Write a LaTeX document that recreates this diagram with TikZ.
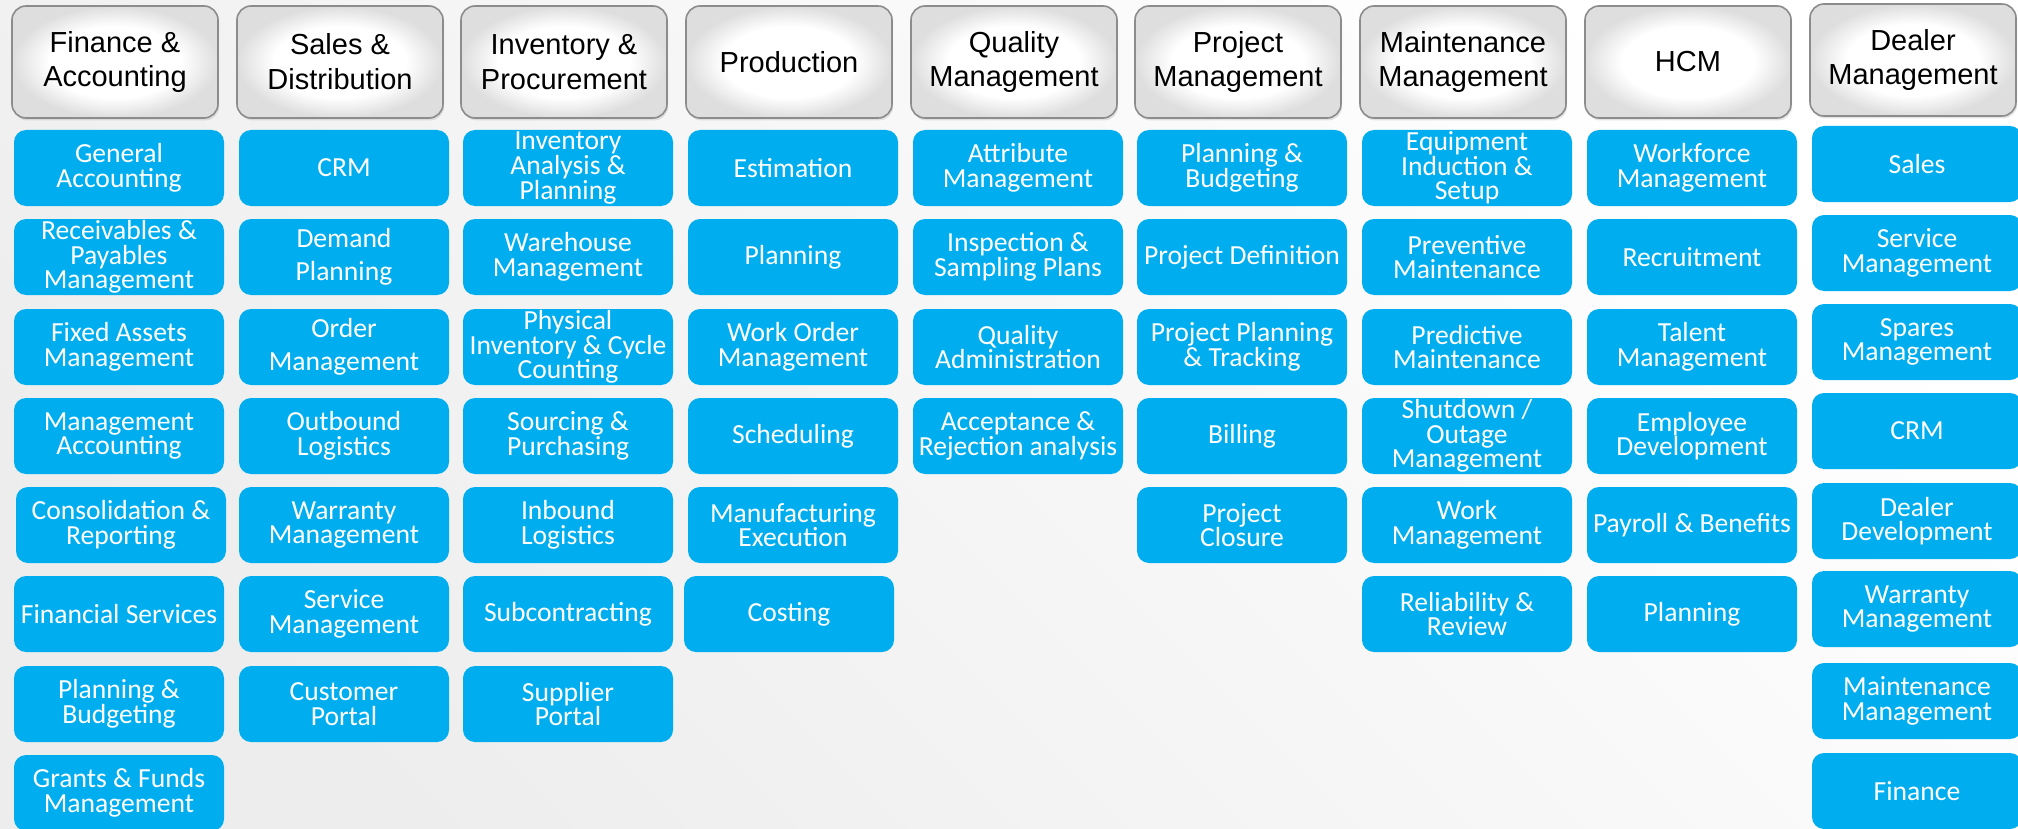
\documentclass[tikz,border=0pt]{standalone}
\usepackage{fontspec}
\setmainfont{Carlito}
\newfontfamily\headfont{Liberation Sans}
\usetikzlibrary{shadows}
\definecolor{modblue}{HTML}{00AEEF}
\definecolor{headedge}{HTML}{8C8C8C}
\pgfdeclareradialshading{headglow}{\pgfpoint{0bp}{0bp}}{color(0bp)=(white); color(16bp)=(white); color(25bp)=(black!13); color(50bp)=(black!13)}
\tikzset{
    modhead/.style = {shape = rectangle, rounded corners = 7pt, draw = headedge, line width = 0.8pt,
        shading = headglow, minimum width = 103pt, minimum height = 56pt,
        inner sep = 0pt, align = center, font = {\headfont\fontsize{14.5pt}{17.4pt}\selectfont},
        drop shadow = {opacity = 0.2, shadow xshift = 0.6pt, shadow yshift = -1.2pt}},
    modbox/.style = {shape = rectangle, rounded corners = 6pt, fill = modblue, text = white,
        minimum width = 105pt, minimum height = 38pt, inner sep = 0pt, align = center,
        font = {\fontsize{13.8pt}{12.3pt}\selectfont}}
}

\begin{document}
\begin{tikzpicture}[x = 0.5pt, y = -0.5pt]
            \useasboundingbox (0, 0) rectangle (2018, 829);
            \shade [top color = white, bottom color = black!7, shading angle = -45] (0, 0) rectangle (2018, 829);

            \node [modhead] (fin) at (115, 62) {Finance \&\\Accounting};
            \node [modhead] (sales) at (340, 62) {Sales \&\\Distribution};
            \node [modhead] (inv) at (564, 62) {Inventory \&\\Procurement};
            \node [modhead] (prod) at (789, 62) {Production};
            \node [modhead] (qual) at (1014, 62) {Quality\\Management};
            \node [modhead] (proj) at (1238, 62) {Project\\Management};
            \node [modhead] (maint) at (1463, 62) {Maintenance\\Management};
            \node [modhead] (hcm) at (1688, 62) {HCM};
            \node [modhead] (dealer) at (1913, 60) {Dealer\\Management};

            \node [modbox] (fin1) at (119, 168) {General\\Accounting};
            \node [modbox] (fin2) at (119, 257) {Receivables \&\\Payables\\Management};
            \node [modbox] (fin3) at (119, 347) {Fixed Assets\\Management};
            \node [modbox] (fin4) at (119, 436) {Management\\Accounting};
            \node [modbox] (fin5) at (121, 525) {Consolidation \&\\Reporting};
            \node [modbox] (fin6) at (119, 614) {Financial Services};
            \node [modbox] (fin7) at (119, 704) {Planning \&\\Budgeting};
            \node [modbox] (fin8) at (119, 793) {Grants \& Funds\\Management};

            \node [modbox] (sales1) at (344, 168) {CRM};
            \node [modbox] (sales2) at (344, 257) {Demand\\[4pt]Planning};
            \node [modbox] (sales3) at (344, 347) {Order\\[4pt]Management};
            \node [modbox] (sales4) at (344, 436) {Outbound\\Logistics};
            \node [modbox] (sales5) at (344, 525) {Warranty\\Management};
            \node [modbox] (sales6) at (344, 614) {Service\\Management};
            \node [modbox] (sales7) at (344, 704) {Customer\\Portal};

            \node [modbox] (inv1) at (568, 168) {Inventory\\Analysis \&\\Planning};
            \node [modbox] (inv2) at (568, 257) {Warehouse\\Management};
            \node [modbox] (inv3) at (568, 347) {Physical\\Inventory \& Cycle\\Counting};
            \node [modbox] (inv4) at (568, 436) {Sourcing \&\\Purchasing};
            \node [modbox] (inv5) at (568, 525) {Inbound\\Logistics};
            \node [modbox] (inv6) at (568, 614) {Subcontracting};
            \node [modbox] (inv7) at (568, 704) {Supplier\\Portal};

            \node [modbox] (prod1) at (793, 168) {Estimation};
            \node [modbox] (prod2) at (793, 257) {Planning};
            \node [modbox] (prod3) at (793, 347) {Work Order\\Management};
            \node [modbox] (prod4) at (793, 436) {Scheduling};
            \node [modbox] (prod5) at (793, 525) {Manufacturing\\Execution};
            \node [modbox] (prod6) at (789, 614) {Costing};

            \node [modbox] (qual1) at (1018, 168) {Attribute\\Management};
            \node [modbox] (qual2) at (1018, 257) {Inspection \&\\Sampling Plans};
            \node [modbox] (qual3) at (1018, 347) {Quality\\Administration};
            \node [modbox] (qual4) at (1018, 436) {Acceptance \&\\Rejection analysis};

            \node [modbox] (proj1) at (1242, 168) {Planning \&\\Budgeting};
            \node [modbox] (proj2) at (1242, 257) {Project Definition};
            \node [modbox] (proj3) at (1242, 347) {Project Planning\\\& Tracking};
            \node [modbox] (proj4) at (1242, 436) {Billing};
            \node [modbox] (proj5) at (1242, 525) {Project\\Closure};

            \node [modbox] (maint1) at (1467, 168) {Equipment\\Induction \&\\Setup};
            \node [modbox] (maint2) at (1467, 257) {Preventive\\Maintenance};
            \node [modbox] (maint3) at (1467, 347) {Predictive\\Maintenance};
            \node [modbox] (maint4) at (1467, 436) {Shutdown /\\Outage\\Management};
            \node [modbox] (maint5) at (1467, 525) {Work\\Management};
            \node [modbox] (maint6) at (1467, 614) {Reliability \&\\Review};

            \node [modbox] (hcm1) at (1692, 168) {Workforce\\Management};
            \node [modbox] (hcm2) at (1692, 257) {Recruitment};
            \node [modbox] (hcm3) at (1692, 347) {Talent\\Management};
            \node [modbox] (hcm4) at (1692, 436) {Employee\\Development};
            \node [modbox] (hcm5) at (1692, 525) {Payroll \& Benefits};
            \node [modbox] (hcm6) at (1692, 614) {Planning};

            \node [modbox] (dealer1) at (1917, 164) {Sales};
            \node [modbox] (dealer2) at (1917, 253) {Service\\Management};
            \node [modbox] (dealer3) at (1917, 342) {Spares\\Management};
            \node [modbox] (dealer4) at (1917, 431) {CRM};
            \node [modbox] (dealer5) at (1917, 521) {Dealer\\Development};
            \node [modbox] (dealer6) at (1917, 609) {Warranty\\Management};
            \node [modbox] (dealer7) at (1917, 701) {Maintenance\\Management};
            \node [modbox] (dealer8) at (1917, 791) {Finance};
\end{tikzpicture}
\end{document}
